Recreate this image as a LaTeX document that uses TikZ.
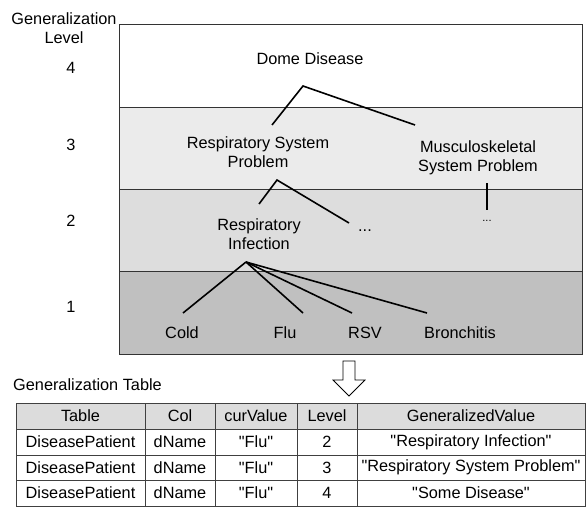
\documentclass[tikz,border=0pt]{standalone}
\usepackage{fontspec}
\setmainfont{Liberation Sans}[Ligatures=TeXOff]
\definecolor{bandC}{HTML}{EBEBEB}
\definecolor{bandB}{HTML}{DDDDDD}
\definecolor{bandA}{HTML}{C0C0C0}
\definecolor{headfill}{HTML}{DCDCDC}
\begin{document}
\begin{tikzpicture}[x=1pt,y=-1pt,
  txt/.style={font=\fontsize{16.3}{19}\selectfont, inner sep=0pt, align=center},
  smalltxt/.style={font=\fontsize{11}{13}\selectfont, inner sep=0pt},
  branch/.style={line width=1.6pt},
  frame/.style={line width=0.9pt, draw=black!80},
  grid/.style={line width=0.9pt, draw=black!75}]
\useasboundingbox (0,0) rectangle (586,508);

% level bands of the hierarchy
\fill[white] (119,24) rectangle (582,107);
\fill[bandC] (119,107) rectangle (582,189);
\fill[bandB] (119,189) rectangle (582,271);
\fill[bandA] (119,271) rectangle (582,354);
\draw[frame] (119,24) rectangle (582,354);
\draw[frame] (119,107) -- (582,107);
\draw[frame] (119,189) -- (582,189);
\draw[frame] (119,271) -- (582,271);

% level axis
\node[txt] (gl) at (64,28.5) {Generalization\\Level};
\node[txt] (l4) at (71,68) {4};
\node[txt] (l3) at (71,145) {3};
\node[txt] (l2) at (71,221) {2};
\node[txt] (l1) at (71,307) {1};

% hierarchy labels
\node[txt] (dome) at (310,59) {Dome Disease};
\node[txt] (rsp) at (258,152.5) {Respiratory System\\Problem};
\node[txt] (msp) at (478,157.5) {Musculoskeletal\\System Problem};
\node[txt] (ri) at (259,234.5) {Respiratory\\Infection};
\node[txt] (more1) at (365,231) {...};
\node[smalltxt] (more2) at (487,221) {...};
\node[txt] (cold) at (182,333) {Cold};
\node[txt] (flu) at (285,333) {Flu};
\node[txt] (rsv) at (365,333) {RSV};
\node[txt] (bron) at (460,333) {Bronchitis};

% branch end points
\coordinate (domeApex) at (303,86);
\coordinate (rspTop) at (272,125);
\coordinate (mspTop) at (415,125);
\coordinate (rspApex) at (277,180);
\coordinate (riTop) at (259,204);
\coordinate (more1Top) at (349,223);
\coordinate (mspFoot) at (487,183);
\coordinate (more2Top) at (487,210);
\coordinate (riApex) at (246,262);
\coordinate (coldTop) at (183,313);
\coordinate (fluTop) at (303,313);
\coordinate (rsvTop) at (352,313);
\coordinate (bronTop) at (427,313);

% branches
\draw[branch] (rspTop) -- (domeApex) -- (mspTop);
\draw[branch] (riTop) -- (rspApex) -- (more1Top);
\draw[branch] (mspFoot) -- (more2Top);
\draw[branch] (riApex) -- (coldTop);
\draw[branch] (riApex) -- (fluTop);
\draw[branch] (riApex) -- (rsvTop);
\draw[branch] (riApex) -- (bronTop);

% hollow down arrow
\draw[line width=0.8pt, fill=white] (343,361) -- (355,361) -- (355,380) -- (365,380)
  -- (349,396) -- (333,380) -- (343,380) -- cycle;

% generalization table
\node[txt, anchor=west] (gtitle) at (13,385) {Generalization Table};
\fill[headfill] (16,403) rectangle (585,429);
\draw[grid] (16,403) rectangle (585,506);
\foreach \yy in {429,455,480} \draw[grid] (16,\yy) -- (585,\yy);
\foreach \xx in {145,215,297,357} \draw[grid] (\xx,403) -- (\xx,506);

\node[txt] (h1) at (80.5,416) {Table};
\node[txt] (h2) at (180,416) {Col};
\node[txt] (h3) at (256,416) {curValue};
\node[txt] (h4) at (327,416) {Level};
\node[txt] (h5) at (471,416) {GeneralizedValue};

\node[txt] (a1) at (80.5,442) {DiseasePatient};
\node[txt] (a2) at (180,442) {dName};
\node[txt] (a3) at (256,442) {"Flu"};
\node[txt] (a4) at (327,442) {2};
\node[txt] (a5) at (471,442) {"Respiratory Infection"};

\node[txt] (b1) at (80.5,467.5) {DiseasePatient};
\node[txt] (b2) at (180,467.5) {dName};
\node[txt] (b3) at (256,467.5) {"Flu"};
\node[txt] (b4) at (327,467.5) {3};
\node[txt] (b5) at (471,467.5) {"Respiratory System Problem"};

\node[txt] (c1) at (80.5,493) {DiseasePatient};
\node[txt] (c2) at (180,493) {dName};
\node[txt] (c3) at (256,493) {"Flu"};
\node[txt] (c4) at (327,493) {4};
\node[txt] (c5) at (471,493) {"Some Disease"};
\end{tikzpicture}
\end{document}
